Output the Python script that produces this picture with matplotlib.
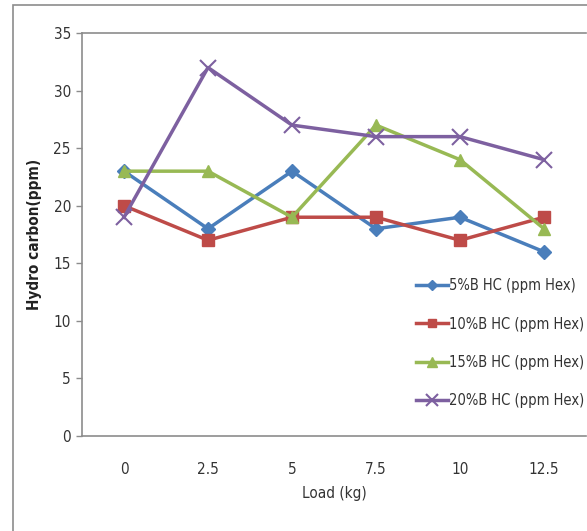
import matplotlib
matplotlib.use("Agg")
import matplotlib.pyplot as plt
from matplotlib.patches import Rectangle

loads = ["0", "2.5", "5", "7.5", "10", "12.5"]
s5 = [23, 18, 23, 18, 19, 16]
s10 = [20, 17, 19, 19, 17, 19]
s15 = [23, 23, 19, 27, 24, 18]
s20 = [19, 32, 27, 26, 26, 24]
labels = ["5%B HC (ppm Hex)", "10%B HC (ppm Hex)", "15%B HC (ppm Hex)", "20%B HC (ppm Hex)"]
yticks = [0, 5, 10, 15, 20, 25, 30, 35]

plt.rcParams["font.family"] = ["DejaVu Sans"]
plt.rcParams["font.stretch"] = "condensed"

W, H = 587, 531
fig = plt.figure(figsize=(W / 100, H / 100), dpi=100)
fig.patches.append(Rectangle((13 / W, -0.1), 1, 1.1 - 5 / H, transform=fig.transFigure,
                             fill=False, edgecolor="#8c8c8c", linewidth=1.2))
ax = fig.add_axes([82 / W, 1 - 436 / H, (586 - 82) / W, (436 - 33) / H])

x = list(range(len(loads)))
styles = [
    (s5, "#4A7EBB", "D", 7),
    (s10, "#BE4B48", "s", 8),
    (s15, "#98B954", "^", 9),
    (s20, "#7D60A0", "x", 11),
]
for (vals, c, m, ms), lab in zip(styles, labels):
    ax.plot(x, vals, color=c, marker=m, markersize=ms, linewidth=2.5,
            markeredgewidth=1.5 if m == "x" else 1, label=lab)

ax.set_xlim(-0.5, len(loads) - 0.5)
ax.set_ylim(0, 35)
ax.set_yticks(yticks)
ax.set_xticks(x)
ax.set_xticklabels(loads)
ax.tick_params(axis="x", length=0, pad=19, labelsize=11, colors="#333333")
ax.tick_params(axis="y", length=4, width=1, color="#8c8c8c", labelsize=11, labelcolor="#333333", pad=4)
for sp in ["left", "bottom", "top"]:
    ax.spines[sp].set_color("#8c8c8c")
    ax.spines[sp].set_linewidth(1.2)
ax.spines["right"].set_visible(False)

ax.set_xlabel("Load (kg)", fontsize=11, color="#333333", labelpad=6)
ax.set_ylabel("Hydro carbon(ppm)", fontsize=11, fontweight="bold", color="#222222", labelpad=8)

leg = ax.legend(loc="lower left", bbox_to_anchor=(328 / 504, 22 / 403), frameon=False, fontsize=10.5,
                handlelength=2.2, labelspacing=1.6, handletextpad=0.1, labelcolor="#333333",
                markerscale=0.8, borderaxespad=0)

fig.savefig("out.png", dpi=100)
